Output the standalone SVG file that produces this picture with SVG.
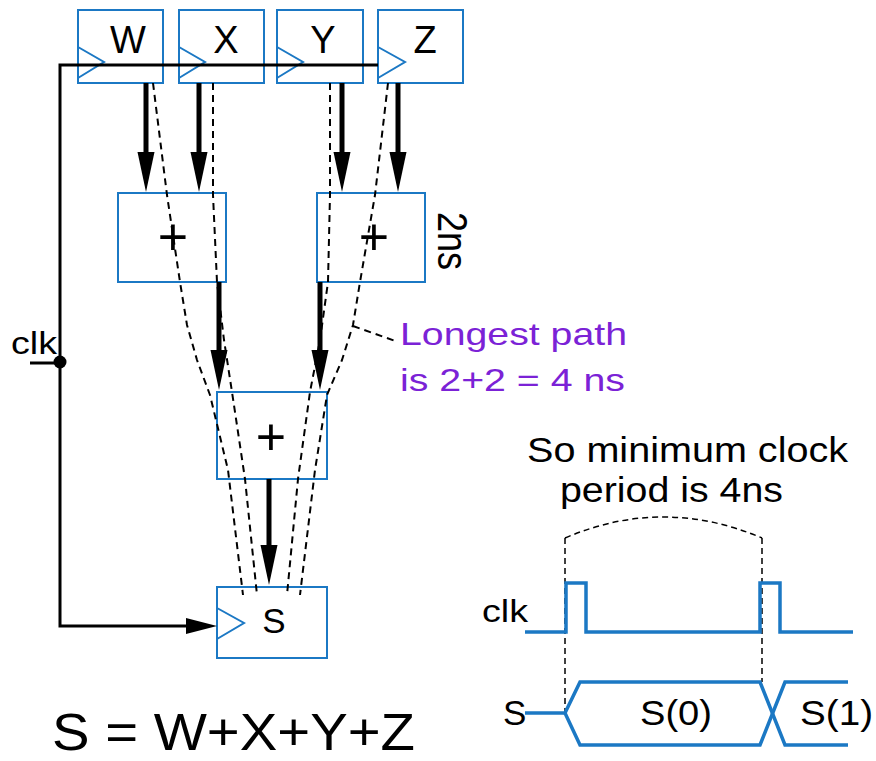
<svg xmlns="http://www.w3.org/2000/svg" width="876" height="761" viewBox="0 0 876 761">
<style>
  .box { fill: #ffffff; stroke: #1b78c4; stroke-width: 2; }
  .clktri { fill: none; stroke: #1b78c4; stroke-width: 2; stroke-linejoin: miter; }
  .lbl { font-family: "Liberation Sans", Arial, sans-serif; fill: #000; }
  .thick { stroke: #000; stroke-width: 5; fill: none; marker-end: url(#bigHead); }
  .wire { stroke: #000; stroke-width: 3; fill: none; }
  .dash { stroke: #000; stroke-width: 2; fill: none; stroke-dasharray: 7 5; stroke-linejoin: round; }
  .tdash { stroke: #000; stroke-width: 1.5; fill: none; stroke-dasharray: 6 4; }
  .wave { stroke: #1b78c4; stroke-width: 3.5; fill: none; stroke-linejoin: miter; }
  .purple { font-family: "Liberation Sans", Arial, sans-serif; fill: #7b22d6; }
</style>
<defs>
  <marker id="bigHead" markerUnits="userSpaceOnUse" markerWidth="42" markerHeight="20" refX="2" refY="0" orient="auto" overflow="visible">
    <path d="M0,-8.5 L40,0 L0,8.5 z" fill="#000"/>
  </marker>
  <marker id="clkHead" markerUnits="userSpaceOnUse" markerWidth="32" markerHeight="18" refX="2" refY="0" orient="auto" overflow="visible">
    <path d="M0,-8 L31,0 L0,8 z" fill="#000"/>
  </marker>
</defs>
<rect width="876" height="761" fill="#ffffff"/>

<g id="reg-W">
  <rect class="box" x="78" y="10" width="85" height="73"/>
  <polyline class="clktri" points="78,47 104,62 78,78"/>
  <text class="lbl" x="128" y="53" font-size="38" text-anchor="middle">W</text>
</g>
<g id="reg-X">
  <rect class="box" x="179" y="10" width="85" height="73"/>
  <polyline class="clktri" points="179,47 205,62 179,78"/>
  <text class="lbl" x="226" y="53" font-size="38" text-anchor="middle">X</text>
</g>
<g id="reg-Y">
  <rect class="box" x="277" y="10" width="86" height="73"/>
  <polyline class="clktri" points="277,47 303,62 277,78"/>
  <text class="lbl" x="323" y="53" font-size="38" text-anchor="middle">Y</text>
</g>
<g id="reg-Z">
  <rect class="box" x="378" y="10" width="85" height="73"/>
  <polyline class="clktri" points="378,47 405,62 378,78"/>
  <text class="lbl" x="425" y="53" font-size="38" text-anchor="middle">Z</text>
</g>
<g id="add-left">
  <rect class="box" x="118" y="193" width="108" height="89"/>
  <text class="lbl" x="173" y="255" font-size="52" text-anchor="middle">+</text>
</g>
<g id="add-right">
  <rect class="box" x="317" y="193" width="108" height="89"/>
  <text class="lbl" x="374" y="255" font-size="52" text-anchor="middle">+</text>
</g>
<g id="add-bottom">
  <rect class="box" x="217" y="392" width="110" height="87"/>
  <text class="lbl" x="271" y="455" font-size="52" text-anchor="middle">+</text>
</g>
<g id="reg-S">
  <rect class="box" x="217" y="587" width="110" height="71"/>
  <polyline class="clktri" points="217,608 244,623 217,639"/>
  <text class="lbl" x="274" y="633" font-size="35" text-anchor="middle">S</text>
</g>

<g id="connectors">
  <path class="wire" d="M378,65 H60 V626 H188" marker-end="url(#clkHead)"/>
  <line class="wire" x1="30" y1="363" x2="60" y2="363"/>
  <circle cx="60" cy="362" r="6.5" fill="#000"/>
  <line class="thick" x1="146" y1="83" x2="146" y2="154"/>
  <line class="thick" x1="199" y1="83" x2="199" y2="154"/>
  <line class="thick" x1="342" y1="83" x2="342" y2="154"/>
  <line class="thick" x1="398" y1="83" x2="398" y2="154"/>
  <line class="thick" x1="219" y1="282" x2="219" y2="352"/>
  <line class="thick" x1="320" y1="282" x2="320" y2="352"/>
  <line class="thick" x1="269" y1="479" x2="269" y2="547"/>
  <polyline class="dash" points="153,83 167,195 180,282 187,325 197,360 210,395 228,470 243,595"/>
  <polyline class="dash" points="213,83 213,195 217,282 224,340 232,392 245,479 257,595"/>
  <polyline class="dash" points="330,83 330,195 328,282 320,340 310,392 298,479 287,595"/>
  <polyline class="dash" points="388,83 375,195 360,282 353,325 342,360 327,395 315,470 300,595"/>
  <line class="dash" x1="353" y1="326" x2="398" y2="342"/>
</g>

<g id="annotations">
  <text class="lbl" x="11" y="354" font-size="32" textLength="46" lengthAdjust="spacingAndGlyphs">clk</text>
  <text class="lbl" font-size="36" transform="translate(438,212) scale(1.2,1) rotate(90)">2ns</text>
  <text class="purple" x="400" y="345" font-size="32" textLength="227" lengthAdjust="spacingAndGlyphs">Longest path</text>
  <text class="purple" x="400" y="391" font-size="32" textLength="225" lengthAdjust="spacingAndGlyphs">is 2+2 = 4 ns</text>
  <text class="lbl" x="52" y="750" font-size="52" textLength="363" lengthAdjust="spacingAndGlyphs">S = W+X+Y+Z</text>
</g>

<g id="timing">
  <text class="lbl" x="527" y="462" font-size="35" textLength="321" lengthAdjust="spacingAndGlyphs">So minimum clock</text>
  <text class="lbl" x="560" y="502" font-size="35" textLength="223" lengthAdjust="spacingAndGlyphs">period is 4ns</text>
  <path class="tdash" d="M565,538 Q663,496 762,538"/>
  <line class="tdash" x1="565" y1="538" x2="565" y2="713"/>
  <line class="tdash" x1="762" y1="538" x2="762" y2="682"/>
  <text class="lbl" x="482" y="622" font-size="31" textLength="46" lengthAdjust="spacingAndGlyphs">clk</text>
  <path class="wave" d="M525,632 H566 V583 H586 V632 H760 V583 H780 V632 H853"/>
  <text class="lbl" x="503" y="725" font-size="35">S</text>
  <path class="wave" d="M525,713 H565 L580,682 H760 L785,745 H848"/>
  <path class="wave" d="M565,713 L580,745 H760 L785,682 H848"/>
  <text class="lbl" x="640" y="725" font-size="35" textLength="72" lengthAdjust="spacingAndGlyphs">S(0)</text>
  <text class="lbl" x="800" y="725" font-size="35" textLength="73" lengthAdjust="spacingAndGlyphs">S(1)</text>
</g>
</svg>
